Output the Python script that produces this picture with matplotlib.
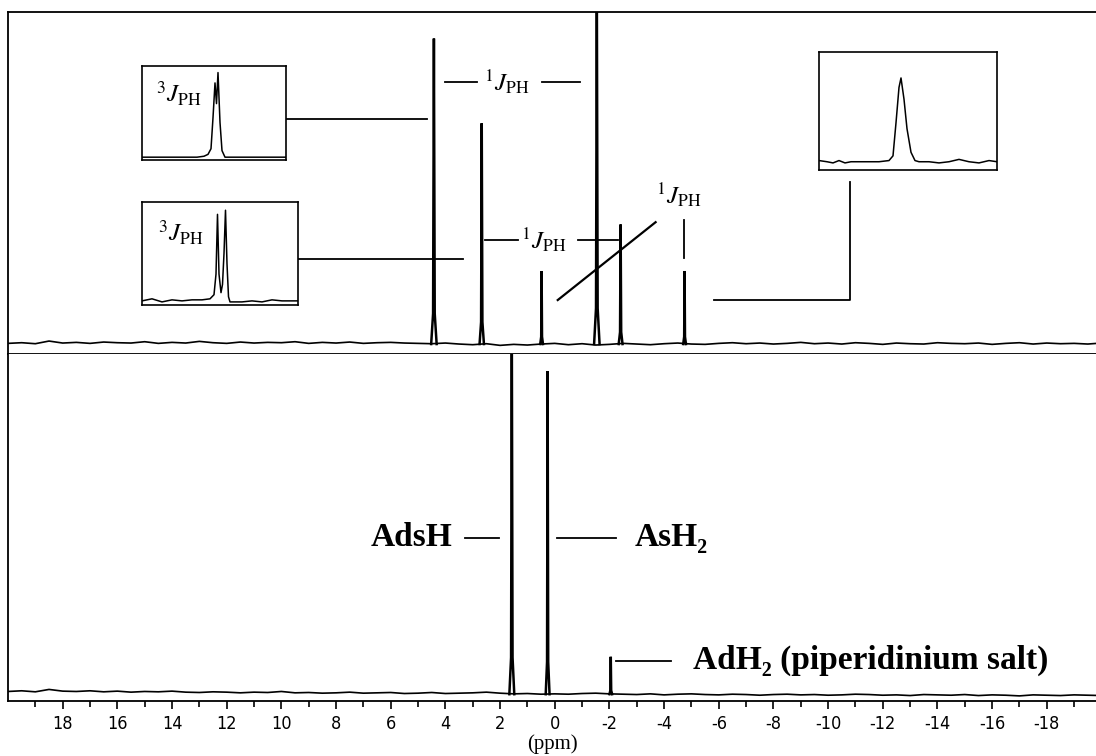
import numpy as np
import matplotlib.pyplot as plt
from matplotlib.ticker import FixedLocator

plt.rcParams['mathtext.fontset'] = 'stix'
plt.rcParams['axes.unicode_minus'] = False
plt.rcParams['font.family'] = ['Liberation Serif', 'DejaVu Serif']

# ---- spectrum data (ppm, relative intensity) ----
tick_ppm = list(range(18, -19, -2))

top_peak_ppm = [4.42, 2.67, 0.48, -1.54, -2.41, -4.75]
top_peak_height = [0.92, 0.665, 0.22, 1.08, 0.36, 0.22]
top_peak_halfwidth = [0.10, 0.08, 0.05, 0.10, 0.07, 0.05]

bot_peak_ppm = [1.57, 0.26, -2.05]
bot_peak_height = [1.08, 0.95, 0.11]
bot_peak_halfwidth = [0.09, 0.07, 0.05]

# baseline ripple every 0.5 ppm from 20 down to -20 (units of 0.001)
baseline_ppm = np.arange(20, -20.01, -0.5)
top_noise = [2, 4, 1, 9, 3, 5, 2, 6, 4, 3, 7, 2, 5, 3, 8, 4, 2, 6, 3, 5,
             4, 7, 2, 5, 3, 6, 2, 4, 5, 3, 2, 1, 3, 0, -2, 1, -4, -1, -3, 0,
             2, -2, 1, -3, -1, 2, 0, -2, 1, 3, 0, -1, 2, 4, 1, 3, 0, 2, 5, 1,
             3, 0, 4, 2, -1, 3, 1, 0, 4, 2, 1, 3, -1, 2, 4, 0, 3, 1, 2, 0, 3]
bot_noise = [8, 10, 7, 14, 9, 8, 10, 7, 9, 6, 8, 7, 9, 6, 5, 7, 6, 4, 6, 5,
             8, 4, 5, 3, 4, 6, 3, 4, 5, 2, 3, 5, 2, 3, 4, 6, 3, 1, 2, 0,
             1, 0, 2, 3, 1, 0, -1, 1, -2, 0, 1, -1, -2, 0, -1, -3, -1, 0, -2, -1,
             -3, -2, 0, -1, -3, -2, -4, -1, -2, -3, -1, -4, -2, -3, -5, -2, -3, -4, -2, -3, -4]

# expanded multiplets shown in the three insets (local x, relative height)
inset1_x = [0, 55, 62, 66, 69, 71, 73, 74.5, 76, 78, 80, 83, 144]
inset1_y = [0.03, 0.03, 0.04, 0.06, 0.12, 0.45, 0.82, 0.6, 0.93, 0.4, 0.1, 0.03, 0.03]

inset2_x = [0, 10, 20, 30, 40, 50, 60, 68, 72, 74, 75.5, 77, 79, 80.5, 82,
            83.5, 85, 86.5, 88, 100, 110, 120, 130, 140, 156]
inset2_y = [0.04, 0.06, 0.03, 0.05, 0.04, 0.05, 0.05, 0.06, 0.1, 0.3, 0.88,
            0.3, 0.12, 0.2, 0.5, 0.92, 0.4, 0.08, 0.03, 0.03, 0.04, 0.03, 0.05, 0.04, 0.04]

inset3_x = [0, 8, 14, 20, 26, 32, 40, 50, 60, 70, 74, 77, 80, 82, 85, 88, 92,
            96, 100, 110, 120, 130, 140, 150, 160, 170, 178]
inset3_y = [0.08, 0.07, 0.06, 0.08, 0.06, 0.07, 0.07, 0.07, 0.07, 0.08, 0.12,
            0.4, 0.7, 0.78, 0.6, 0.35, 0.15, 0.08, 0.07, 0.07, 0.06, 0.07, 0.09,
            0.07, 0.06, 0.08, 0.07]

W, H = 1096, 756
fig = plt.figure(figsize=(W / 100, H / 100), dpi=100)


def box(x0, y0, x1, y1):
    # pixel box (top-left origin) -> figure fraction rect
    return [x0 / W, 1 - y1 / H, (x1 - x0) / W, (y1 - y0) / H]


ax_top = fig.add_axes(box(8, 12, 1096, 354))
ax_bot = fig.add_axes(box(8, 354, 1096, 701))

lw = 1.2


def draw_peaks(ax, pos, height, hw, width=1.8):
    for p, h, w in zip(pos, height, hw):
        ax.plot([p + w, p + 0.3 * w, p, p - 0.3 * w, p - w],
                [0, 0.1 * h, h, 0.1 * h, 0], color='black', lw=width,
                solid_joinstyle='miter')


for ax, noise in ((ax_top, top_noise), (ax_bot, bot_noise)):
    ax.plot(baseline_ppm, np.array(noise) * 0.001, color='black', lw=lw)
    ax.set_xlim(20, -19.8)
    ax.spines['right'].set_visible(False)
    for s in ('left', 'top', 'bottom'):
        ax.spines[s].set_linewidth(1.3)
    ax.set_yticks([])

draw_peaks(ax_top, top_peak_ppm, top_peak_height, top_peak_halfwidth)
draw_peaks(ax_bot, bot_peak_ppm, bot_peak_height, bot_peak_halfwidth)

ax_top.set_ylim(-0.03, 1.0)
ax_bot.set_ylim(-0.02, 1.0)
ax_top.set_xticks([])

ax_bot.xaxis.set_major_locator(FixedLocator(tick_ppm))
ax_bot.xaxis.set_minor_locator(FixedLocator(list(range(19, -20, -2))))
ax_bot.set_xticklabels([str(t) for t in tick_ppm], family='DejaVu Sans',
                       fontstretch='condensed', fontsize=13)
ax_bot.tick_params(axis='x', which='major', direction='out', length=6, width=1.2, pad=4)
ax_bot.tick_params(axis='x', which='minor', direction='out', length=4, width=1.2)
ax_bot.spines['top'].set_visible(False)
ax_bot.set_xlabel('(ppm)', fontsize=15, labelpad=1)

# ---- coupling labels, top spectrum ----
jkw = dict(fontsize=18, ha='center', va='center')
lk = dict(color='black', lw=1.3)

ax_top.plot([4.02, 2.85], [0.789, 0.789], **lk)
ax_top.text(1.75, 0.789, r'$^{1}J_{\mathrm{PH}}$', **jkw)
ax_top.plot([0.48, -0.91], [0.789, 0.789], **lk)

ax_top.plot([2.56, 1.35], [0.313, 0.313], **lk)
ax_top.text(0.40, 0.313, r'$^{1}J_{\mathrm{PH}}$', **jkw)
ax_top.plot([-0.84, -2.30], [0.313, 0.313], **lk)

ax_top.text(-4.55, 0.45, r'$^{1}J_{\mathrm{PH}}$', **jkw)
ax_top.plot([-4.72, -4.72], [0.259, 0.373], **lk)
ax_top.plot([-0.11, -3.69], [0.1325, 0.367], color='black', lw=1.6)

ax_top.plot([10.42, 4.68], [0.678, 0.678], **lk)
ax_top.plot([9.76, 3.36], [0.256, 0.256], **lk)
ax_top.plot([-5.81, -10.79, -10.79], [0.1325, 0.1325, 0.488], **lk)

# ---- insets with expanded multiplets ----
for rect, xs, ys, label in ((box(142, 66, 286, 160), inset1_x, inset1_y, True),
                            (box(142, 202, 298, 305), inset2_x, inset2_y, True),
                            (box(819, 52, 997, 170), inset3_x, inset3_y, False)):
    ins = fig.add_axes(rect)
    ins.plot(xs, ys, color='black', lw=1.1)
    ins.set_xlim(0, max(xs))
    ins.set_ylim(0, 1)
    ins.set_xticks([])
    ins.set_yticks([])
    for s in ins.spines.values():
        s.set_linewidth(1.2)
    if label:
        ins.text(0.1, 0.7, r'$^{3}J_{\mathrm{PH}}$', transform=ins.transAxes,
                 fontsize=18, ha='left', va='center')

# ---- assignments, bottom spectrum ----
bkw = dict(fontsize=24, fontweight='bold', va='center')
ax_bot.plot([3.29, 2.05], [0.46, 0.46], **lk)
ax_bot.text(3.75, 0.46, 'AdsH', ha='right', **bkw)
ax_bot.plot([-0.07, -2.23], [0.46, 0.46], **lk)
ax_bot.text(-2.93, 0.46, 'AsH₂', ha='left', **bkw)
ax_bot.plot([-2.23, -4.24], [0.098, 0.098], **lk)
ax_bot.text(-5.05, 0.098, 'AdH₂ (piperidinium salt)', ha='left', **bkw)

fig.savefig('out.png', dpi=100)
